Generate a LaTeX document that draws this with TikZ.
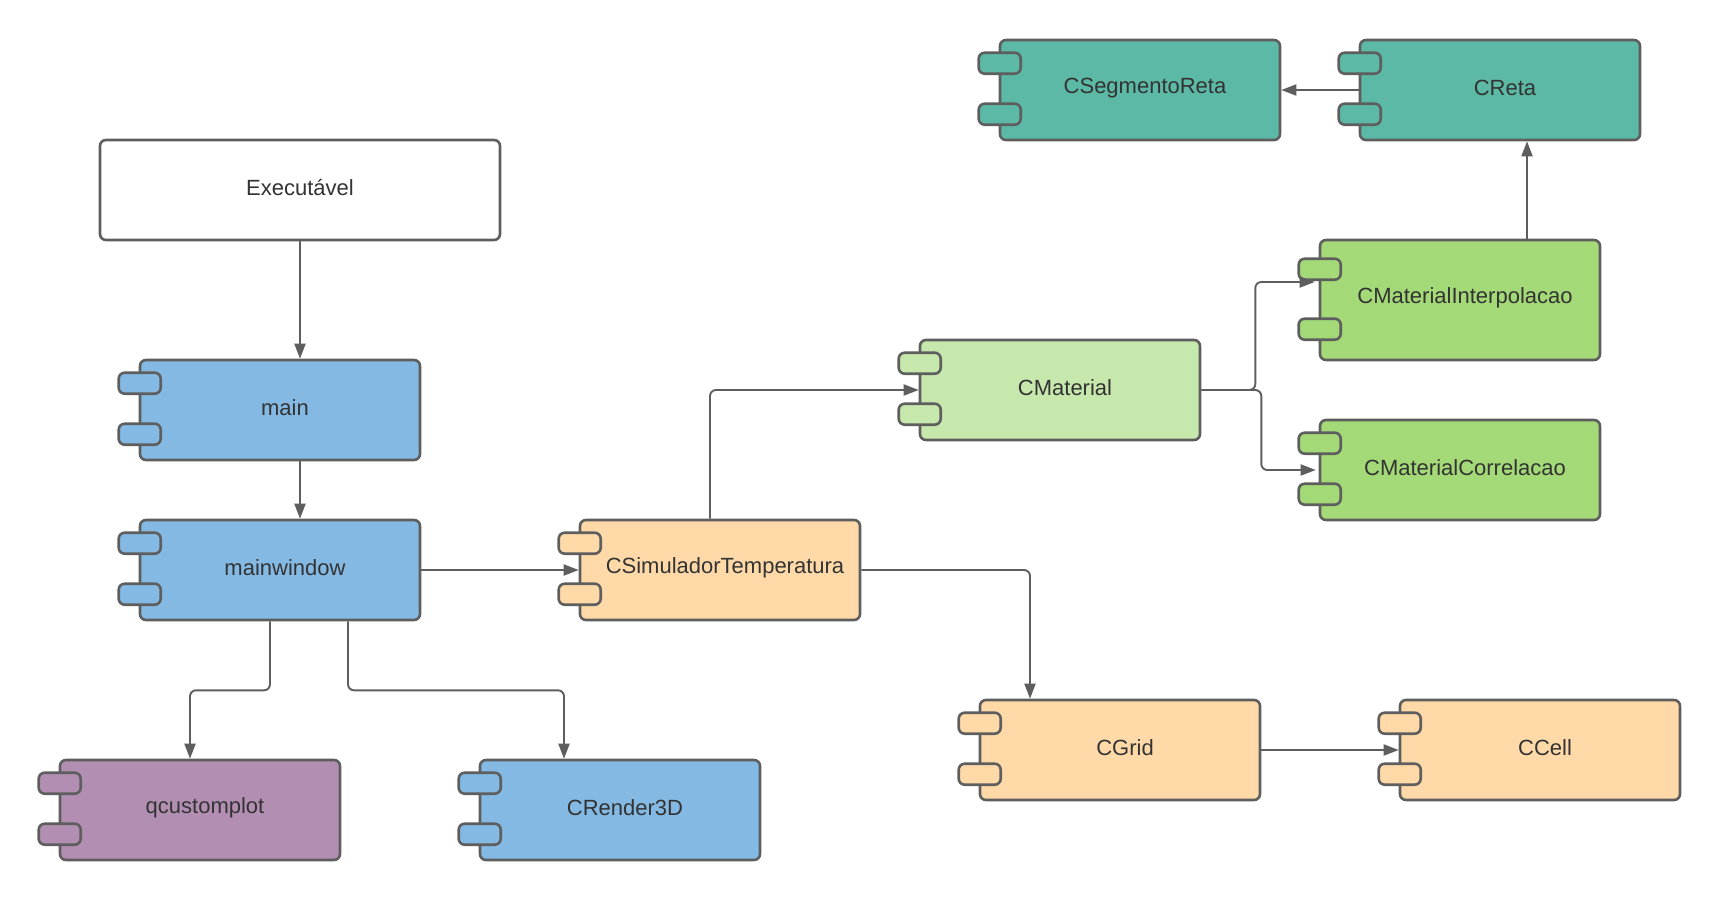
\documentclass[tikz,border=0pt]{standalone}
\usepackage{fontspec}
\setmainfont{Liberation Sans}
\usetikzlibrary{arrows.meta,calc}
\definecolor{strk}{HTML}{5E5E5E}
\definecolor{txt}{HTML}{333333}
\definecolor{cblue}{HTML}{83B9E3}
\definecolor{cpeach}{HTML}{FFDAA8}
\definecolor{clgreen}{HTML}{C7E8AC}
\definecolor{cgreen}{HTML}{A3D977}
\definecolor{cteal}{HTML}{5BB9A5}
\definecolor{cpurple}{HTML}{B28FB2}
\tikzset{
  compbox/.style={draw=strk, line width=2.6pt, rounded corners=6pt, minimum width=280pt, minimum height=100pt, inner sep=0pt},
  comptab/.style={draw=strk, line width=2.6pt, rounded corners=6pt},
  comptext/.style={text=txt, font=\fontsize{22}{26}\selectfont},
  conn/.style={draw=strk, line width=1.9pt, rounded corners=6pt, -{Triangle[length=15pt,width=11pt]}},
}
% #1 name, #2 cx, #3 cy, #4 fill, #5 text, #6 height, #7 tab1 offset, #8 tab2 offset
\newcommand\compx[8]{%
  \node[compbox, fill=#4, minimum height=#6pt] (#1) at (#2,#3) {};
  \draw[comptab, fill=#4] ([xshift=-20pt,yshift=-#7pt]#1.north west) rectangle ++(42pt,-21pt);
  \draw[comptab, fill=#4] ([xshift=-20pt,yshift=-#8pt]#1.north west) rectangle ++(42pt,-21pt);
  \node[comptext] (#1-t) at ([xshift=5pt,yshift=2pt]#1.center) {#5};
}
\newcommand\comp[5]{\compx{#1}{#2}{#3}{#4}{#5}{100}{14}{65}}
\begin{document}
\begin{tikzpicture}[x=1pt,y=-1pt]
\useasboundingbox (0,0) rectangle (1720,900);
\fill[white] (0,0) rectangle (1720,900);
% Executavel
\node[compbox, fill=white, minimum width=400pt] (exe) at (300,190) {};
\node[comptext] (exe-t) at ([yshift=2pt]exe.center) {Executável};
\comp{main}{280}{410}{cblue}{main}
\comp{mw}{280}{570}{cblue}{mainwindow}
\comp{qc}{200}{810}{cpurple}{qcustomplot}
\comp{rend}{620}{810}{cblue}{CRender3D}
\comp{sim}{720}{570}{cpeach}{CSimuladorTemperatura}
\comp{mat}{1060}{390}{clgreen}{CMaterial}
\compx{interp}{1460}{300}{cgreen}{CMaterialInterpolacao}{120}{20}{80}
\comp{corr}{1460}{470}{cgreen}{CMaterialCorrelacao}
\comp{seg}{1140}{90}{cteal}{CSegmentoReta}
\comp{reta}{1500}{90}{cteal}{CReta}
\comp{grid}{1120}{750}{cpeach}{CGrid}
\comp{cell}{1540}{750}{cpeach}{CCell}
% connectors
\draw[conn] (exe.south) -- (exe.south |- main.north);
\draw[conn] ([xshift=20pt]main.south) -- ([xshift=20pt]mw.north);
\draw[conn] (mw.east) -- (sim.west);
\draw[conn] ([xshift=-10pt]sim.north) |- (mat.west);
\draw[conn] (sim.east) -| ([xshift=-90pt]grid.north);
\draw[conn] (grid.east) -- (cell.west);
\draw[conn] (mat.east) -- ++(54,0) |- ([yshift=18pt,xshift=-4pt]interp.west);
\draw[conn] (mat.east) -- ++(60,0) |- ([xshift=-3pt]corr.west);
\draw[conn] ([xshift=67pt]interp.north) -- ([xshift=27pt]reta.south);
\draw[conn] (reta.west) -- (seg.east);
\draw[conn] ([xshift=-10pt]mw.south) -- ++(0,69) -| ([xshift=-10pt]qc.north);
\draw[conn] ([xshift=68pt]mw.south) -- ++(0,69) -| ([xshift=-56pt]rend.north);
\end{tikzpicture}
\end{document}
